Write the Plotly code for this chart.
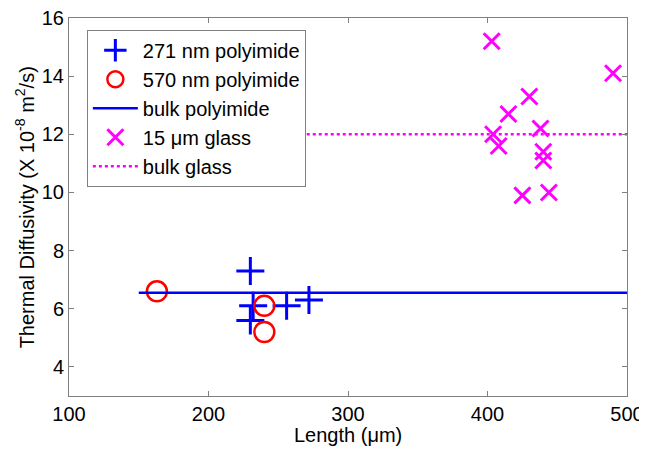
import plotly.graph_objects as go

# Data
p271_x = [230, 232, 230, 256, 272]
p271_y = [7.3, 6.1, 5.6, 6.1, 6.3]

p570_x = [163, 240, 240]
p570_y = [6.6, 6.1, 5.2]

bulk_poly_x = [150, 500]
bulk_poly_y = [6.55, 6.55]

glass_x = [403, 490, 430, 415, 438, 404, 408, 440, 440, 425, 444]
glass_y = [15.2, 14.1, 13.3, 12.7, 12.2, 12.0, 11.6, 11.4, 11.1, 9.9, 10.0]

bulk_glass_x = [150, 500]
bulk_glass_y = [12.0, 12.0]

x_ticks = [100, 200, 300, 400, 500]
y_ticks = [4, 6, 8, 10, 12, 14, 16]

x_title = "Length (μm)"
y_title = "Thermal Diffusivity (X 10<sup>-8</sup> m<sup>2</sup>/s)"

FONT = "Liberation Sans, Arial, sans-serif"

fig = go.Figure()
fig.add_trace(go.Scatter(x=p271_x, y=p271_y, mode="markers", name="271 nm polyimide",
                         legendgroup="a",
                         marker=dict(symbol="cross-thin", size=20, color="#0000ff",
                                     line=dict(color="#0000ff", width=3))))
fig.add_trace(go.Scatter(x=p570_x, y=p570_y, mode="markers", name="570 nm polyimide",
                         legendgroup="b",
                         marker=dict(symbol="circle-open", size=20, color="#ff0000",
                                     line=dict(color="#ff0000", width=2.5))))
fig.add_trace(go.Scatter(x=bulk_poly_x, y=bulk_poly_y, mode="lines", name="bulk polyimide",
                         legendgroup="c",
                         line=dict(color="#0000ff", width=2.5)))
fig.add_trace(go.Scatter(x=glass_x, y=glass_y, mode="markers", name="15 μm glass",
                         legendgroup="d",
                         marker=dict(symbol="x-thin", size=16, color="#ff00ff",
                                     line=dict(color="#ff00ff", width=3))))
fig.add_trace(go.Scatter(x=bulk_glass_x, y=bulk_glass_y, mode="lines", name="bulk glass",
                         legendgroup="e",
                         line=dict(color="#ff00ff", width=2.5, dash="dot")))

axis_common = dict(
    showline=True, linecolor="#808080", linewidth=1, mirror="ticks",
    ticks="inside", ticklen=5, tickcolor="#808080",
    showgrid=False, zeroline=False, automargin=False,
    ticklabeloverflow="allow",
    tickfont=dict(family=FONT, size=20, color="#000000"),
)

# The page body keeps the browser's default 8px margin, so the figure is
# sized 8px smaller and its margins shifted to land on the reference's frame.
fig.update_layout(
    width=639, height=441,
    margin=dict(l=61, r=20, t=10, b=53),
    paper_bgcolor="white", plot_bgcolor="white",
    font=dict(family=FONT, color="#000000"),
    xaxis=dict(range=[100, 500], tickvals=x_ticks, **axis_common),
    yaxis=dict(range=[3, 16], tickvals=y_ticks, **axis_common),
    legend=dict(x=0.032, y=0.969, xanchor="left", yanchor="top",
                bgcolor="white", bordercolor="#808080", borderwidth=1,
                font=dict(family=FONT, size=20, color="#000000"),
                itemwidth=45,
                traceorder="grouped", tracegroupgap=0),
    showlegend=True,
    annotations=[
        dict(text=x_title, xref="paper", yref="paper", x=0.5, y=-0.103,
             xanchor="center", yanchor="middle", showarrow=False,
             font=dict(family=FONT, size=20, color="#000000")),
        dict(text=y_title, xref="paper", yref="paper", x=-0.08, y=0.5,
             xanchor="center", yanchor="middle", showarrow=False, textangle=-90,
             font=dict(family=FONT, size=20, color="#000000")),
    ],
)

fig.write_html("out.html")
